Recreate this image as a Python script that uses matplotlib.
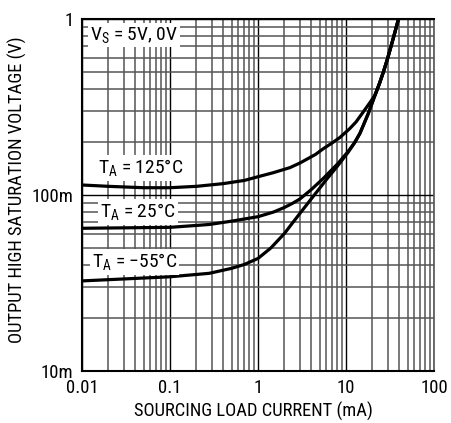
import matplotlib
matplotlib.use("Agg")
import matplotlib.pyplot as plt
from matplotlib import font_manager as fm
from matplotlib.ticker import LogLocator, NullFormatter

names = {f.name for f in fm.fontManager.ttflist}
FONT = "Liberation Sans"
for cand in ["Liberation Sans Narrow", "Roboto Condensed", "Archivo Narrow", "PT Sans Narrow", "Pragati Narrow"]:
    if cand in names:
        FONT = cand
        break
plt.rcParams['font.family'] = [FONT, 'DejaVu Sans']
plt.rcParams['mathtext.fontset'] = 'custom'
plt.rcParams['mathtext.rm'] = FONT
plt.rcParams['mathtext.it'] = FONT

# data (mA, V)
x_125 = [0.01, 0.02, 0.05, 0.1, 0.2, 0.4, 0.7, 1.0, 1.5, 2.3, 3.0, 4.5, 5.5, 7.0, 8.5, 11, 13, 15.6, 18.7, 21.4, 24, 26.6, 29.5, 32.5, 35, 37.3, 39.5]
y_125 = [0.114, 0.112, 0.110, 0.110, 0.112, 0.116, 0.121, 0.127, 0.134, 0.143, 0.152, 0.170, 0.183, 0.198, 0.212, 0.238, 0.260, 0.295, 0.335, 0.370, 0.430, 0.50, 0.59, 0.70, 0.80, 0.90, 1.0]

x_25 = [0.01, 0.1, 0.28, 0.5, 1.0, 1.5, 2.0, 2.5, 3.0, 4.0, 5.5, 6.5, 8.0, 10.5, 12.5, 14.4, 17.8, 21.4, 24, 26.6, 29.5, 32.5, 35, 37.3, 39.5]
y_25 = [0.0647, 0.0655, 0.068, 0.071, 0.0753, 0.080, 0.085, 0.090, 0.095, 0.107, 0.124, 0.135, 0.150, 0.176, 0.198, 0.224, 0.288, 0.370, 0.430, 0.50, 0.59, 0.70, 0.80, 0.90, 1.0]

x_m55 = [0.01, 0.1, 0.28, 0.5, 0.7, 1.0, 1.4, 2.0, 2.5, 3.0, 4.0, 5.0, 6.0, 8.0, 10.5, 12.5, 14.4, 17.8, 21.4, 24, 26.6, 29.5, 32.5, 35, 37.3, 39.5]
y_m55 = [0.0325, 0.0343, 0.0359, 0.0383, 0.0403, 0.0436, 0.050, 0.0605, 0.070, 0.0787, 0.0946, 0.109, 0.1225, 0.146, 0.174, 0.198, 0.224, 0.288, 0.370, 0.430, 0.50, 0.59, 0.70, 0.80, 0.90, 1.0]

x_ticks = [0.01, 0.1, 1, 10, 100]
x_ticklabels = ["0.01", "0.1", "1", "10", "100"]
y_ticks = [0.01, 0.1, 1]
y_ticklabels = ["10m", "100m", "1"]

FS = 14
LFS = 13.3
TFS = 13.5

fig = plt.figure(figsize=(4.52, 4.23), dpi=100)
W, H = 452, 423
ax = fig.add_axes([82 / W, (H - 371) / H, 352 / W, 352 / H])
ax.set_xscale('log')
ax.set_yscale('log')
ax.set_xlim(0.01, 100)
ax.set_ylim(0.01, 1)

ax.set_xticks(x_ticks)
ax.set_xticklabels(x_ticklabels)
ax.set_yticks(y_ticks)
ax.set_yticklabels(y_ticklabels)
ax.xaxis.set_minor_locator(LogLocator(base=10, subs=range(2, 10)))
ax.yaxis.set_minor_locator(LogLocator(base=10, subs=range(2, 10)))
ax.xaxis.set_minor_formatter(NullFormatter())
ax.yaxis.set_minor_formatter(NullFormatter())
ax.tick_params(which='both', length=0, labelsize=TFS)
ax.tick_params(axis='x', pad=6)
ax.tick_params(axis='y', pad=6)

ax.grid(which='major', color='black', linewidth=1.0, zorder=1)
ax.grid(which='minor', color='#555555', linewidth=1.1, zorder=1)
ax.set_axisbelow(True)

for s in ['left', 'bottom', 'top']:
    ax.spines[s].set_color('black')
    ax.spines[s].set_linewidth(1.5)
ax.spines['right'].set_color('#555555')
ax.spines['right'].set_linewidth(1.2)

for xs, ys in [(x_125, y_125), (x_25, y_25), (x_m55, y_m55)]:
    ax.plot(xs, ys, color='black', linewidth=2.3, solid_capstyle='round',
            solid_joinstyle='round', zorder=3)

bbox = dict(facecolor='white', edgecolor='none', pad=1.5)
ax.text(0.022, 0.955, r"V$_\mathregular{S}$ = 5V, 0V", transform=ax.transAxes,
        fontsize=FS, va='center', ha='left', bbox=bbox, zorder=4)
ax.text(0.045, 0.577, r"T$_\mathregular{A}$ = 125°C", transform=ax.transAxes,
        fontsize=FS, va='center', ha='left', bbox=bbox, zorder=4)
ax.text(0.051, 0.452, r"T$_\mathregular{A}$ = 25°C", transform=ax.transAxes,
        fontsize=FS, va='center', ha='left', bbox=bbox, zorder=4)
ax.text(0.028, 0.31, r"T$_\mathregular{A}$ = −55°C", transform=ax.transAxes,
        fontsize=FS, va='center', ha='left', bbox=bbox, zorder=4)

ax.set_xlabel("SOURCING LOAD CURRENT (mA)", fontsize=LFS)
ax.set_ylabel("OUTPUT HIGH SATURATION VOLTAGE (V)", fontsize=LFS)
ax.xaxis.set_label_coords(0.488, -0.088)
ax.yaxis.set_label_coords(-0.155, 0.514)

fig.savefig("out.png", dpi=100)
